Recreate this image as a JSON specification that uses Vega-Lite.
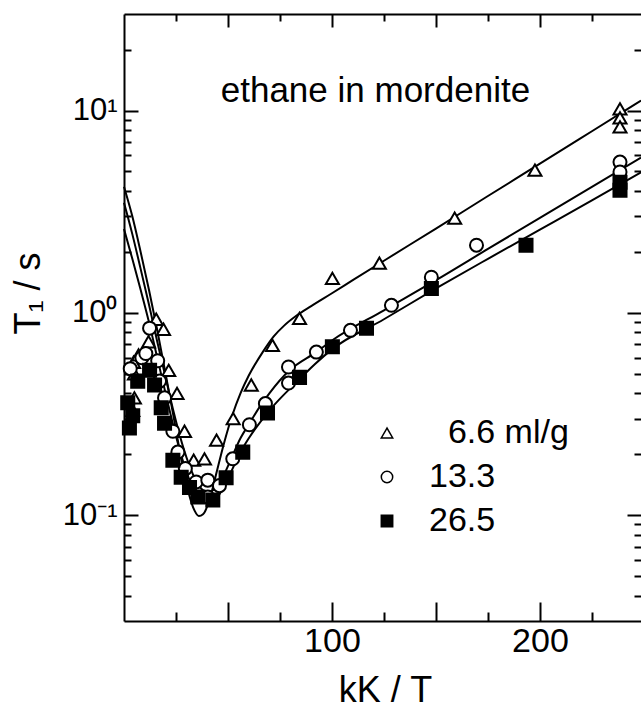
{
  "$schema": "https://vega.github.io/schema/vega-lite/v6.json",
  "width": 517,
  "height": 607,
  "autosize": {"type": "none"},
  "padding": {"left": 124, "top": 14, "right": 0, "bottom": 88},
  "background": "white",
  "config": {
    "view": {"stroke": null},
    "font": "Liberation Sans",
    "axis": {"grid": false, "domainColor": "black", "tickColor": "black", "labelColor": "black", "titleColor": "black", "domainWidth": 2, "tickWidth": 2, "labelFont": "Liberation Sans", "titleFont": "Liberation Sans", "labelOverlap": false, "labelFlush": false},
    "legend": {"orient": "none", "legendX": 246, "legendY": 402, "title": null, "labelFontSize": 34, "labelFont": "Liberation Sans", "labelColor": "black", "symbolSize": 130, "symbolStrokeWidth": 1.5, "labelOffset": 25, "rowPadding": 10, "padding": 0}
  },
  "datasets": {
    "curves": [
      {"series": "6.6", "x": 0, "y": 4.2}, {"series": "6.6", "x": 4, "y": 3.0}, {"series": "6.6", "x": 8, "y": 2.0}, {"series": "6.6", "x": 12, "y": 1.3}, {"series": "6.6", "x": 16, "y": 0.82}, {"series": "6.6", "x": 20, "y": 0.5}, {"series": "6.6", "x": 24, "y": 0.3}, {"series": "6.6", "x": 28, "y": 0.18}, {"series": "6.6", "x": 31, "y": 0.13}, {"series": "6.6", "x": 34, "y": 0.105}, {"series": "6.6", "x": 36, "y": 0.099}, {"series": "6.6", "x": 38, "y": 0.101}, {"series": "6.6", "x": 41, "y": 0.118}, {"series": "6.6", "x": 44, "y": 0.155}, {"series": "6.6", "x": 48, "y": 0.225}, {"series": "6.6", "x": 52, "y": 0.31}, {"series": "6.6", "x": 56, "y": 0.4}, {"series": "6.6", "x": 60, "y": 0.49}, {"series": "6.6", "x": 66.7, "y": 0.64}, {"series": "6.6", "x": 72, "y": 0.765}, {"series": "6.6", "x": 77, "y": 0.865}, {"series": "6.6", "x": 83, "y": 0.97}, {"series": "6.6", "x": 90, "y": 1.08}, {"series": "6.6", "x": 100, "y": 1.25}, {"series": "6.6", "x": 110, "y": 1.45}, {"series": "6.6", "x": 125, "y": 1.81}, {"series": "6.6", "x": 150, "y": 2.61}, {"series": "6.6", "x": 175, "y": 3.78}, {"series": "6.6", "x": 200, "y": 5.46}, {"series": "6.6", "x": 225, "y": 7.9}, {"series": "6.6", "x": 248.6, "y": 11.2},
      {"series": "13.3", "x": 0, "y": 3.5}, {"series": "13.3", "x": 4, "y": 2.45}, {"series": "13.3", "x": 8, "y": 1.65}, {"series": "13.3", "x": 12, "y": 1.1}, {"series": "13.3", "x": 16, "y": 0.72}, {"series": "13.3", "x": 20, "y": 0.48}, {"series": "13.3", "x": 24, "y": 0.32}, {"series": "13.3", "x": 28, "y": 0.225}, {"series": "13.3", "x": 32, "y": 0.17}, {"series": "13.3", "x": 36, "y": 0.14}, {"series": "13.3", "x": 40, "y": 0.13}, {"series": "13.3", "x": 44, "y": 0.136}, {"series": "13.3", "x": 48, "y": 0.158}, {"series": "13.3", "x": 52, "y": 0.195}, {"series": "13.3", "x": 56, "y": 0.24}, {"series": "13.3", "x": 60.3, "y": 0.284}, {"series": "13.3", "x": 65, "y": 0.34}, {"series": "13.3", "x": 69.9, "y": 0.4}, {"series": "13.3", "x": 79.6, "y": 0.52}, {"series": "13.3", "x": 92.4, "y": 0.64}, {"series": "13.3", "x": 100, "y": 0.73}, {"series": "13.3", "x": 125, "y": 1.03}, {"series": "13.3", "x": 150, "y": 1.45}, {"series": "13.3", "x": 175, "y": 2.07}, {"series": "13.3", "x": 200, "y": 2.95}, {"series": "13.3", "x": 225, "y": 4.2}, {"series": "13.3", "x": 248.6, "y": 5.85},
      {"series": "26.5", "x": 0, "y": 2.6}, {"series": "26.5", "x": 4, "y": 1.85}, {"series": "26.5", "x": 8, "y": 1.3}, {"series": "26.5", "x": 12, "y": 0.9}, {"series": "26.5", "x": 16, "y": 0.6}, {"series": "26.5", "x": 20, "y": 0.4}, {"series": "26.5", "x": 24, "y": 0.27}, {"series": "26.5", "x": 28, "y": 0.19}, {"series": "26.5", "x": 32, "y": 0.145}, {"series": "26.5", "x": 36, "y": 0.123}, {"series": "26.5", "x": 40, "y": 0.115}, {"series": "26.5", "x": 44, "y": 0.12}, {"series": "26.5", "x": 48, "y": 0.138}, {"series": "26.5", "x": 52, "y": 0.168}, {"series": "26.5", "x": 56, "y": 0.205}, {"series": "26.5", "x": 60, "y": 0.24}, {"series": "26.5", "x": 70, "y": 0.33}, {"series": "26.5", "x": 84.4, "y": 0.47}, {"series": "26.5", "x": 92, "y": 0.56}, {"series": "26.5", "x": 100, "y": 0.66}, {"series": "26.5", "x": 125, "y": 0.93}, {"series": "26.5", "x": 150, "y": 1.32}, {"series": "26.5", "x": 175, "y": 1.85}, {"series": "26.5", "x": 200, "y": 2.58}, {"series": "26.5", "x": 225, "y": 3.6}, {"series": "26.5", "x": 248.6, "y": 4.95}
    ],
    "points": [
      {"series": "6.6", "x": 4.2, "y": 0.33}, {"series": "6.6", "x": 5.0, "y": 0.38}, {"series": "6.6", "x": 5.0, "y": 0.5}, {"series": "6.6", "x": 4.6, "y": 0.57}, {"series": "6.6", "x": 7.0, "y": 0.62}, {"series": "6.6", "x": 11.8, "y": 0.72}, {"series": "6.6", "x": 15.5, "y": 0.93}, {"series": "6.6", "x": 19.0, "y": 0.83}, {"series": "6.6", "x": 21.5, "y": 0.52}, {"series": "6.6", "x": 25.5, "y": 0.4}, {"series": "6.6", "x": 29.1, "y": 0.26}, {"series": "6.6", "x": 33.5, "y": 0.187}, {"series": "6.6", "x": 38.7, "y": 0.19}, {"series": "6.6", "x": 44.5, "y": 0.235}, {"series": "6.6", "x": 52.5, "y": 0.3}, {"series": "6.6", "x": 61.2, "y": 0.44}, {"series": "6.6", "x": 71.4, "y": 0.69}, {"series": "6.6", "x": 84.4, "y": 0.94}, {"series": "6.6", "x": 100.2, "y": 1.48}, {"series": "6.6", "x": 122.8, "y": 1.76}, {"series": "6.6", "x": 159, "y": 2.94}, {"series": "6.6", "x": 197.6, "y": 5.08}, {"series": "6.6", "x": 238.5, "y": 10.2}, {"series": "6.6", "x": 238.5, "y": 9.2}, {"series": "6.6", "x": 238.5, "y": 8.3},
      {"series": "13.3", "x": 3.0, "y": 0.53}, {"series": "13.3", "x": 8.6, "y": 0.6}, {"series": "13.3", "x": 10.5, "y": 0.63}, {"series": "13.3", "x": 12.3, "y": 0.84}, {"series": "13.3", "x": 16.2, "y": 0.58}, {"series": "13.3", "x": 17.1, "y": 0.46}, {"series": "13.3", "x": 19.5, "y": 0.38}, {"series": "13.3", "x": 23.5, "y": 0.26}, {"series": "13.3", "x": 25.9, "y": 0.205}, {"series": "13.3", "x": 29.5, "y": 0.17}, {"series": "13.3", "x": 34.7, "y": 0.146}, {"series": "13.3", "x": 40.3, "y": 0.149}, {"series": "13.3", "x": 40.3, "y": 0.123}, {"series": "13.3", "x": 45.9, "y": 0.14}, {"series": "13.3", "x": 52.3, "y": 0.19}, {"series": "13.3", "x": 60.3, "y": 0.28}, {"series": "13.3", "x": 68, "y": 0.356}, {"series": "13.3", "x": 79.1, "y": 0.45}, {"series": "13.3", "x": 79.1, "y": 0.54}, {"series": "13.3", "x": 92.5, "y": 0.64}, {"series": "13.3", "x": 108.9, "y": 0.82}, {"series": "13.3", "x": 128.6, "y": 1.09}, {"series": "13.3", "x": 147.8, "y": 1.5}, {"series": "13.3", "x": 169.5, "y": 2.16}, {"series": "13.3", "x": 238.5, "y": 5.56}, {"series": "13.3", "x": 238.5, "y": 4.97},
      {"series": "26.5", "x": 1.8, "y": 0.36}, {"series": "26.5", "x": 2.6, "y": 0.27}, {"series": "26.5", "x": 4.2, "y": 0.31}, {"series": "26.5", "x": 6.6, "y": 0.46}, {"series": "26.5", "x": 12.3, "y": 0.52}, {"series": "26.5", "x": 14.7, "y": 0.44}, {"series": "26.5", "x": 17.9, "y": 0.34}, {"series": "26.5", "x": 19.5, "y": 0.285}, {"series": "26.5", "x": 23.5, "y": 0.187}, {"series": "26.5", "x": 27.5, "y": 0.154}, {"series": "26.5", "x": 31.5, "y": 0.137}, {"series": "26.5", "x": 35.5, "y": 0.123}, {"series": "26.5", "x": 42.7, "y": 0.119}, {"series": "26.5", "x": 49.1, "y": 0.153}, {"series": "26.5", "x": 57.1, "y": 0.205}, {"series": "26.5", "x": 69.0, "y": 0.32}, {"series": "26.5", "x": 84.4, "y": 0.48}, {"series": "26.5", "x": 100.2, "y": 0.68}, {"series": "26.5", "x": 116.6, "y": 0.84}, {"series": "26.5", "x": 147.8, "y": 1.32}, {"series": "26.5", "x": 193.3, "y": 2.16}, {"series": "26.5", "x": 238.5, "y": 4.42}, {"series": "26.5", "x": 238.5, "y": 4.04}
    ]
  },
  "layer": [
    {
      "data": {"name": "curves"},
      "mark": {"type": "line", "color": "black", "strokeWidth": 2, "interpolate": "monotone"},
      "encoding": {
        "x": {"field": "x", "type": "quantitative", "scale": {"type": "linear", "domain": [0, 248.6], "nice": false, "zero": false},
          "axis": {"orient": "bottom", "values": [50, 100, 150, 200], "tickSize": -19, "labelPadding": 22, "labelFontSize": 34, "labelExpr": "datum.value == 100 || datum.value == 200 ? datum.label : ''", "title": "kK / T", "titleFontSize": 36, "titleFontWeight": "normal", "titleX": 261, "titleY": 80, "titleBaseline": "alphabetic", "titleAlign": "center"}},
        "y": {"field": "y", "type": "quantitative", "scale": {"type": "log", "domain": [0.03, 30], "nice": false},
          "axis": {"orient": "left", "values": [0.1, 1, 10], "tickSize": -14, "labelPadding": 21, "labelFontSize": 31, "labelBaseline": "middle", "labelExpr": "datum.value == 10 ? '10\u00b9' : datum.value == 1 ? '10\u2070' : '10\u207b\u00b9'", "title": "T\u2081 / s", "titleFontSize": 36, "titleFontWeight": "normal", "titleAngle": -90, "titleX": -96, "titleY": 279, "titleBaseline": "middle", "titleAlign": "center"}},
        "detail": {"field": "series", "type": "nominal"}
      }
    },
    {
      "data": {"name": "points"},
      "mark": {"type": "point", "strokeWidth": 2, "size": 170, "opacity": 1},
      "encoding": {
        "x": {"field": "x", "type": "quantitative", "scale": {"type": "linear", "domain": [0, 248.6], "nice": false, "zero": false},
          "axis": {"orient": "top", "values": [50, 100, 150, 200], "tickSize": -13, "labels": false, "title": null}},
        "y": {"field": "y", "type": "quantitative", "scale": {"type": "log", "domain": [0.03, 30], "nice": false},
          "axis": {"orient": "right", "values": [0.1, 1, 10], "tickSize": -14, "labels": false, "domain": false, "title": null}},
        "fill": {"field": "series", "type": "nominal", "scale": {"domain": ["6.6", "13.3", "26.5"], "range": ["white", "white", "black"]},
          "legend": {"labelExpr": "datum.label == '6.6' ? '\u200b\u20076.6 ml/g' : datum.label"}},
        "stroke": {"field": "series", "type": "nominal", "scale": {"domain": ["6.6", "13.3", "26.5"], "range": ["black", "black", "black"]},
          "legend": {"labelExpr": "datum.label == '6.6' ? '\u200b\u20076.6 ml/g' : datum.label"}},
        "shape": {"field": "series", "type": "nominal", "scale": {"domain": ["6.6", "13.3", "26.5"], "range": ["triangle-up", "circle", "square"]},
          "legend": {"labelExpr": "datum.label == '6.6' ? '\u200b\u20076.6 ml/g' : datum.label"}}
      }
    },
    {
      "data": {"values": [{"label": "ethane in mordenite"}]},
      "mark": {"type": "text", "fontSize": 35, "font": "Liberation Sans", "align": "center", "baseline": "alphabetic", "color": "black"},
      "encoding": {
        "x": {"datum": 120.9, "type": "quantitative", "scale": {"type": "linear", "domain": [0, 248.6], "nice": false, "zero": false}, "axis": null},
        "y": {"datum": 11.0, "type": "quantitative", "scale": {"type": "log", "domain": [0.03, 30], "nice": false}, "axis": null},
        "text": {"field": "label", "type": "nominal"}
      }
    },
    {
      "data": {"name": "points"},
      "mark": {"type": "point", "opacity": 0},
      "encoding": {
        "x": {"field": "x", "type": "quantitative", "scale": {"type": "linear", "domain": [0, 248.6], "nice": false, "zero": false},
          "axis": {"orient": "bottom", "values": [25, 75, 125, 175, 225], "tickSize": -9, "labels": false, "domain": false, "title": null}},
        "y": {"field": "y", "type": "quantitative", "scale": {"type": "log", "domain": [0.03, 30], "nice": false},
          "axis": {"orient": "left", "values": [0.04, 0.05, 0.06, 0.07, 0.08, 0.09, 0.2, 0.3, 0.4, 0.5, 0.6, 0.7, 0.8, 0.9, 2, 3, 4, 5, 6, 7, 8, 9, 20], "tickSize": -7, "labels": false, "domain": false, "title": null}}
      }
    },
    {
      "data": {"name": "points"},
      "mark": {"type": "point", "opacity": 0},
      "encoding": {
        "x": {"field": "x", "type": "quantitative", "scale": {"type": "linear", "domain": [0, 248.6], "nice": false, "zero": false},
          "axis": {"orient": "top", "values": [25, 75, 125, 175, 225], "tickSize": -7, "labels": false, "domain": false, "title": null}},
        "y": {"field": "y", "type": "quantitative", "scale": {"type": "log", "domain": [0.03, 30], "nice": false},
          "axis": {"orient": "right", "values": [0.04, 0.05, 0.06, 0.07, 0.08, 0.09, 0.2, 0.3, 0.4, 0.5, 0.6, 0.7, 0.8, 0.9, 2, 3, 4, 5, 6, 7, 8, 9, 20], "tickSize": -7, "labels": false, "domain": false, "title": null}}
      }
    }
  ],
  "resolve": {"axis": {"x": "independent", "y": "independent"}}
}
